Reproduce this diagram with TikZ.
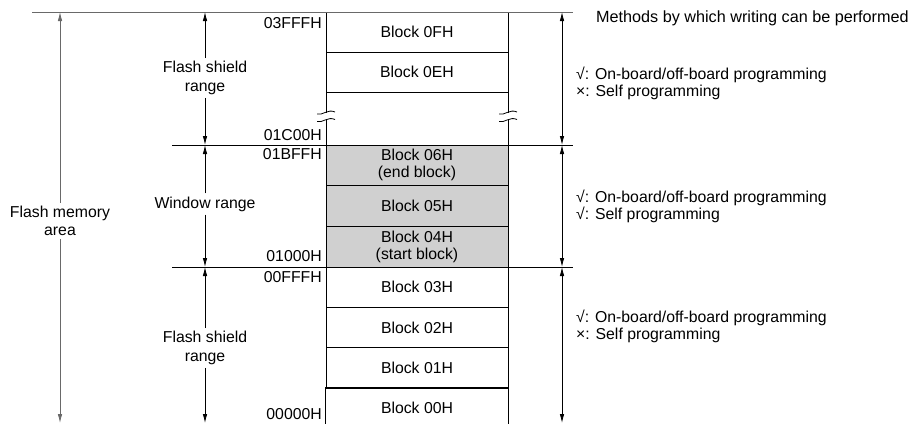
\documentclass[tikz,border=0pt]{standalone}
\usepackage{fontspec}
\setmainfont{Liberation Sans}
\usetikzlibrary{arrows.meta, positioning}
\definecolor{winshade}{RGB}{208, 208, 208}
\definecolor{rulegray}{RGB}{105, 105, 105}
\tikzset{
  blk/.style={draw, line width=0.8pt, minimum width=182pt, minimum height=40pt, inner sep=0pt, align=center},
  wblk/.style={blk, fill=winshade, minimum height=40.67pt},
  lblk/.style={blk, minimum height=40.33pt},
  addr/.style={anchor=east, inner sep=0pt},
  lbl/.style={fill=white, align=center, inner sep=3pt, font=\fontsize{15.8}{18.5}\selectfont},
  note/.style={anchor=west, align=left, inner sep=0pt},
  tip/.style={-{Latex[length=9pt, width=4.5pt]}, line width=0.8pt},
  dbl/.style={{Latex[length=9pt, width=4.5pt]}-{Latex[length=9pt, width=4.5pt]}, line width=0.8pt},
  bar/.style={line width=0.8pt}
}

\begin{document}
\begin{tikzpicture}[x=1pt, y=-1pt, font=\fontsize{15.8}{17}\selectfont]
  \useasboundingbox (0,0) rectangle (909,423);
  % blocks
  \node[blk] (b0F) at (417,32) {Block 0FH};
  \node[blk] (b0E) at (417,72) {Block 0EH};
  \node[wblk] (b06) at (417,165.33) {Block 06H\\(end block)};
  \node[wblk] (b05) at (417,206) {Block 05H};
  \node[wblk] (b04) at (417,246.67) {Block 04H\\(start block)};
  \node[lblk] (b03) at (417,287.17) {Block 03H};
  \node[lblk] (b02) at (417,327.5) {Block 02H};
  \node[lblk] (b01) at (417,367.83) {Block 01H};
  \node[lblk, draw=none] (b00) at (417,408.17) {Block 00H};
  \draw[bar] (b00.south west) -- (b00.north west) -- (b00.north east) -- (b00.south east);
  % broken part
  \foreach \x in {326,508} {
    \draw[bar] (\x,92) -- (\x,112.5);
    \draw[bar] (\x,120) -- (\x,145);
    \foreach \y in {112.5,120}
      \draw[line width=0.8pt] (\x-9,\y+1.5) .. controls (\x-4,\y+3.5) and (\x+2,\y-4) .. (\x+9,\y-0.5);
  }
  % rules
  \draw[bar, rulegray] (32,12) -- (573,12);
  \draw[bar] (172,145) -- (573,145);
  \draw[bar] (172,267) -- (573,267);
  % addresses
  \node[addr] (a3FFF) at (322,23) {03FFFH};
  \node[addr] (a1C00) at (322,135) {01C00H};
  \node[addr] (a1BFF) at (322,154) {01BFFH};
  \node[addr] (a1000) at (322,256) {01000H};
  \node[addr] (a0FFF) at (322,277) {00FFFH};
  \node[addr] (a0000) at (322,414) {00000H};
  % ranges
  \coordinate (aTop) at (60,12);
  \coordinate (aBot) at (60,423);
  \node[lbl] (area) at (60,221) {Flash memory\\area};
  \draw[tip, rulegray] (area) -- (aTop);
  \draw[tip, rulegray] (area) -- (aBot);
  \coordinate (s0) at (205,12);
  \coordinate (s1) at (205,145);
  \coordinate (s2) at (205,267);
  \coordinate (s3) at (205,423);
  \node[lbl] (shieldU) at (205,78) {Flash shield\\range};
  \node[lbl] (win) at (205,204) {Window range};
  \node[lbl] (shieldL) at (205,348) {Flash shield\\range};
  \draw[tip] (shieldU) -- (s0);
  \draw[tip] (shieldU) -- (s1);
  \draw[tip] (win) -- (s1);
  \draw[tip] (win) -- (s2);
  \draw[tip] (shieldL) -- (s2);
  \draw[tip] (shieldL) -- (s3);
  % writing methods
  \coordinate (r0) at (562,12);
  \coordinate (r1) at (562,145);
  \coordinate (r2) at (562,267);
  \coordinate (r3) at (562,423);
  \draw[dbl] (r0) -- (r1);
  \draw[dbl] (r1) -- (r2);
  \draw[dbl] (r2) -- (r3);
  \node[note, font=\fontsize{16.2}{18}\selectfont] (head) at (596,18) {Methods by which writing can be performed};
  \node[note] (nU) at (576,83) {√: On-board/off-board programming\\×: Self programming};
  \node[note] (nW) at (576,206) {√: On-board/off-board programming\\√: Self programming};
  \node[note] (nL) at (576,326) {√: On-board/off-board programming\\×: Self programming};
\end{tikzpicture}
\end{document}
